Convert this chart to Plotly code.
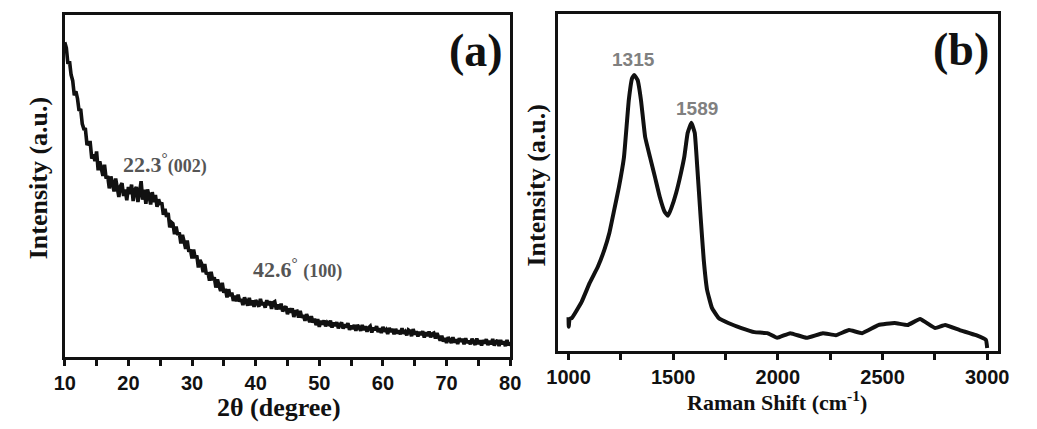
import plotly.graph_objects as go

# ---------- (a) XRD data: scan grid from 10 to 80 deg, 0.25 deg steps ----------
XRD_START = 10.0
XRD_STEP = 0.25
xrd_intensity = [
    92.0, 90.4, 85.7, 86.5, 82.5, 80.8, 76.5, 77.7, 75.6, 72.0, 72.5, 68.2, 66.7, 66.6, 62.0, 62.7, 62.7, 58.0, 59.2, 57.3,
    60.1, 54.6, 57.2, 54.9, 53.0, 56.2, 52.2, 52.9, 49.3, 52.8, 51.0, 48.4, 52.2, 49.1, 46.8, 50.0, 50.8, 47.1, 49.0, 45.8,
    49.7, 47.6, 50.4, 45.6, 48.8, 49.7, 45.3, 48.1, 51.4, 46.0, 48.9, 44.8, 49.0, 47.1, 44.6, 48.2, 45.3, 47.4, 43.9, 46.1,
    44.5, 45.2, 41.6, 43.3, 41.0, 42.1, 37.9, 39.4, 39.0, 35.9, 38.1, 35.7, 36.4, 33.2, 35.7, 33.8, 31.6, 34.1, 30.8, 31.4,
    28.8, 31.4, 28.9, 29.7, 26.2, 28.4, 27.3, 24.8, 27.2, 24.2, 24.7, 22.3, 24.9, 22.5, 23.3, 20.3, 22.7, 20.8, 19.3, 21.7,
    18.8, 19.9, 17.4, 19.8, 17.8, 18.8, 16.4, 17.9, 16.3, 18.2, 16.2, 16.9, 15.2, 17.4, 16.0, 15.0, 17.3, 15.2, 16.5, 14.7,
    16.6, 15.9, 14.7, 17.0, 15.2, 16.0, 14.4, 16.6, 15.2, 16.3, 14.1, 15.9, 16.2, 13.9, 15.3, 14.0, 15.6, 13.3, 14.3, 14.8,
    12.5, 14.2, 13.0, 14.2, 11.7, 13.3, 13.4, 11.5, 13.5, 11.5, 12.2, 10.6, 12.5, 11.1, 10.2, 11.9, 10.1, 11.2, 9.3, 11.1,
    8.8, 10.6, 9.5, 10.7, 9.0, 10.1, 9.6, 10.6, 8.6, 10.1, 9.1, 10.2, 8.4, 9.4, 10.1, 8.3, 9.5, 8.7, 9.9, 7.95,
    9.2, 8.15, 9.4, 7.65, 9.4, 8.65, 7.7, 9.35, 7.9, 8.95, 7.4, 8.55, 9.0, 7.15, 8.6, 7.85, 9.0, 7.28, 8.35, 7.02,
    8.8, 7.45, 8.0, 6.75, 8.5, 7.35, 8.2, 6.65, 8.2, 6.88, 7.75, 6.62, 8.4, 6.85, 7.4, 6.35, 7.9, 7.55, 6.1, 8.15,
    6.6, 7.55, 6.0, 7.35, 6.5, 7.55, 5.7, 7.25, 6.1, 7.45, 5.8, 6.75, 7.0, 5.45, 7.0, 5.8, 4.8, 6.2, 4.5, 5.55,
    4.1, 5.78, 4.75, 4.12, 5.8, 4.28, 5.15, 3.82, 5.5, 4.55, 5.3, 3.75, 5.5, 4.08, 4.75, 3.72, 5.3, 4.18, 3.55, 5.42,
    3.8, 4.88, 3.35, 4.92, 4.0, 5.2, 3.5, 4.7, 3.7, 5.28, 3.35, 4.42, 4.9, 3.18, 4.95, 3.72, 4.6, 3.2, 5.0, 3.4,
    4.4,
]
xrd_ticks = [10, 20, 30, 40, 50, 60, 70, 80]

# ---------- (b) Raman data ----------
raman_shift = [1000, 1001, 1005, 1016, 1062, 1101, 1140, 1171, 1195, 1218, 1241, 1265, 1288, 1304, 1314,
               1330, 1346, 1366, 1389, 1413, 1436, 1459, 1475, 1491, 1514, 1537, 1553, 1569, 1587, 1603,
               1615, 1631, 1646, 1662, 1685, 1717, 1763, 1826, 1888, 1950, 1997, 2059, 2137, 2215, 2277,
               2340, 2402, 2480, 2558, 2620, 2679, 2752, 2799, 2869, 2947, 2994, 3000]
raman_intensity = [10.0, 7.2, 9.5, 9.8, 14.5, 20.2, 25.0, 30.0, 35.0, 41.8, 48.7, 57.6, 74.5, 81.0, 81.9,
                   80.4, 74.5, 63.5, 57.6, 51.6, 45.7, 41.3, 40.1, 42.4, 46.9, 52.8, 57.6, 64.7, 67.7, 64.7,
                   54.6, 39.8, 27.0, 18.1, 12.8, 9.8, 8.3, 6.8, 5.6, 5.3, 3.9, 5.3, 3.9, 5.3, 4.7,
                   6.2, 5.3, 7.7, 8.3, 7.7, 9.5, 6.8, 7.7, 6.2, 4.7, 3.3, 0.9]
raman_ticks = [1000, 1500, 2000, 2500, 3000]

W, H = 1037, 429
INK = "#111111"
fig = go.Figure()
fig.add_trace(go.Scatter(x0=XRD_START, dx=XRD_STEP, y=xrd_intensity, mode="lines",
                         line=dict(color=INK, width=3.6), xaxis="x", yaxis="y"))
fig.add_trace(go.Scatter(x=raman_shift, y=raman_intensity, mode="lines",
                         line=dict(color=INK, width=4, shape="spline", smoothing=0.3),
                         xaxis="x2", yaxis="y2"))

tickfont = dict(family="Liberation Sans", size=20, color=INK, weight="bold")
axcommon = dict(showline=True, linewidth=3, linecolor=INK, mirror=True, showgrid=False,
                zeroline=False, ticks="outside", ticklen=6, tickwidth=3, tickcolor=INK,
                tickfont=tickfont)

fig.update_layout(
    width=W, height=H, margin=dict(l=0, r=0, t=0, b=0),
    paper_bgcolor="white", plot_bgcolor="white", showlegend=False,
    xaxis=dict(domain=[54 / W, 510 / W], range=[10, 80], tickvals=xrd_ticks,
               minor=dict(dtick=5, tick0=10, ticks="outside", ticklen=6, tickwidth=3, tickcolor=INK),
               anchor="y", **axcommon),
    yaxis=dict(domain=[1 - 357 / H, 1 - 15 / H], range=[0, 100], showticklabels=False,
               anchor="x", **{**axcommon, "ticks": ""}),
    xaxis2=dict(domain=[559 / W, 1009 / W], range=[950, 3050], tickvals=raman_ticks,
                minor=dict(dtick=250, tick0=1000, ticks="outside", ticklen=6, tickwidth=3, tickcolor=INK),
                anchor="y2", **axcommon),
    yaxis2=dict(domain=[1 - 351 / H, 1 - 14 / H], range=[0, 100], showticklabels=False,
                anchor="x2", **{**axcommon, "ticks": ""}),
)

serif = "Liberation Serif"
ann = []
# panel letters
ann.append(dict(text="(a)", x=475 / W, y=1 - 50 / H, xref="paper", yref="paper", showarrow=False,
                font=dict(family=serif, size=46, color=INK, weight="bold"), xanchor="center", yanchor="middle"))
ann.append(dict(text="(b)", x=971 / W, y=1 - 49 / H, xref="paper", yref="paper", showarrow=False,
                font=dict(family=serif, size=46, color=INK, weight="bold"), xanchor="center", yanchor="middle"))
# axis titles
ann.append(dict(text="2θ (degree)", x=273 / W, y=1 - 407 / H, xref="paper", yref="paper", showarrow=False,
                font=dict(family=serif, size=26, color=INK, weight="bold"), xanchor="center", yanchor="middle"))
ann.append(dict(text="Raman Shift (cm<sup>-1</sup>)", x=783 / W, y=1 - 401 / H, xref="paper", yref="paper",
                showarrow=False, font=dict(family=serif, size=22, color=INK, weight="bold"),
                xanchor="center", yanchor="middle"))
ann.append(dict(text="Intensity (a.u.)", x=28 / W, y=1 - 178 / H, xref="paper", yref="paper", showarrow=False,
                textangle=-90, font=dict(family=serif, size=26, color=INK, weight="bold"),
                xanchor="center", yanchor="middle"))
ann.append(dict(text="Intensity (a.u.)", x=537 / W, y=1 - 185 / H, xref="paper", yref="paper", showarrow=False,
                textangle=-90, font=dict(family=serif, size=26, color=INK, weight="bold"),
                xanchor="center", yanchor="middle"))
# peak labels (a)
ann.append(dict(text="22.3<sup>°</sup><span style='font-size:18px'>(002)</span>", x=18.8, y=56.7,
                xref="x", yref="y", showarrow=False, xanchor="left", yanchor="middle",
                font=dict(family=serif, size=22, color="#555555", weight="bold")))
ann.append(dict(text="42.6<sup>°</sup> <span style='font-size:18px'>(100)</span>", x=39.3, y=26.0,
                xref="x", yref="y", showarrow=False, xanchor="left", yanchor="middle",
                font=dict(family=serif, size=22, color="#555555", weight="bold")))
# peak labels (b)
ann.append(dict(text="1315", x=1312, y=86.4, xref="x2", yref="y2", showarrow=False,
                xanchor="center", yanchor="middle",
                font=dict(family="Liberation Sans", size=19, color="#808080", weight="bold")))
ann.append(dict(text="1589", x=1612, y=72.1, xref="x2", yref="y2", showarrow=False,
                xanchor="center", yanchor="middle",
                font=dict(family="Liberation Sans", size=19, color="#808080", weight="bold")))
fig.update_layout(annotations=ann)

fig.write_html("out.html")
